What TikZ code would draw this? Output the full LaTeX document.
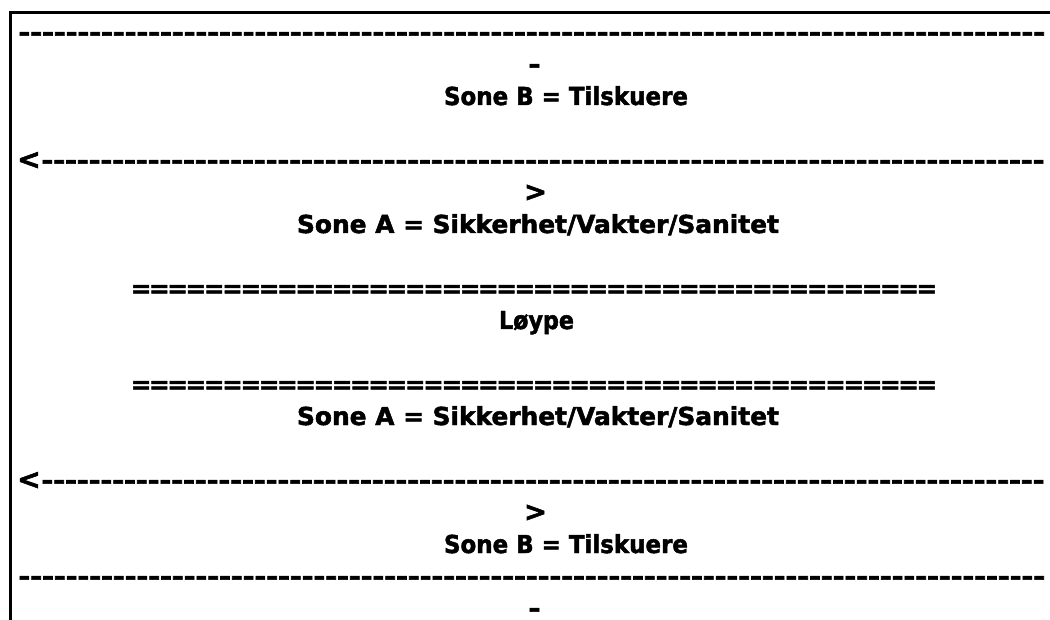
\documentclass[tikz,border=0pt]{standalone}
\usepackage{fontspec}
\usepackage{graphicx}
\setmainfont{DejaVu Sans}[BoldFeatures={FakeBold=2}]
\newcount\repc
\newcommand\reptext[3]{\repc=0\relax\loop\makebox[#2]{#3}\advance\repc by 1\relax\ifnum\repc<#1\repeat}
\newsavebox\fitbox
\newcommand\fitw[2]{\sbox\fitbox{#2}\pgfmathsetmacro\fitsx{#1/\the\wd\fitbox}\scalebox{\fitsx}[1]{\usebox\fitbox}}
\newcommand\lhy{\scalebox{1.2}[1]{-}}
\tikzset{
  txt/.style={inner sep=0pt, outer sep=0pt, font=\fontsize{24.7}{30}\selectfont\bfseries},
  ctr/.style={txt, anchor=base},
  lft/.style={txt, anchor=base west},
  frame/.style={line width=2.2pt, draw=black}
}
\begin{document}
\begin{tikzpicture}[x=1pt,y=-1pt]
\useasboundingbox (0,0) rectangle (1050,620);
\clip (0,0) rectangle (1050,620);
\fill[white] (0,0) rectangle (1050,620);
\draw[frame] (10.5,621) -- (10.5,12.5) -- (1051,12.5);
% top zone B
\node[lft] (d1) at (18.5,41) {\reptext{87}{11.8pt}{\lhy}};
\node[ctr] (d1b) at (534.5,73) {\lhy};
\node[ctr] (sb1) at (566,105) {\fitw{244}{Sone B = Tilskuere}};
% arrow line 1
\node[ctr] (l1) at (29,169) {\scalebox{1.15}{<}};
\node[lft] (a1) at (41.5,169) {\reptext{85}{11.8pt}{\lhy}};
\node[ctr] (r1) at (535.5,201) {\scalebox{1.1}{>}};
\node[ctr] (sa1) at (538,233) {\fitw{482}{Sone A = Sikkerhet/Vakter/Sanitet}};
% course
\node[lft] (e1) at (132,297) {\reptext{44}{18.27pt}{=}};
\node[ctr] (lp) at (536.5,329) {\fitw{75}{Løype}};
\node[lft] (e2) at (132,393) {\reptext{44}{18.27pt}{=}};
\node[ctr] (sa2) at (538,425) {\fitw{482}{Sone A = Sikkerhet/Vakter/Sanitet}};
% arrow line 2
\node[ctr] (l2) at (29,489) {\scalebox{1.15}{<}};
\node[lft] (a2) at (41.5,489) {\reptext{85}{11.8pt}{\lhy}};
\node[ctr] (r2) at (535.5,521) {\scalebox{1.1}{>}};
\node[ctr] (sb2) at (566,553) {\fitw{244}{Sone B = Tilskuere}};
% bottom
\node[lft] (d2) at (18.5,585) {\reptext{87}{11.8pt}{\lhy}};
\node[ctr] (d2b) at (534.5,617) {\lhy};
\end{tikzpicture}
\end{document}
